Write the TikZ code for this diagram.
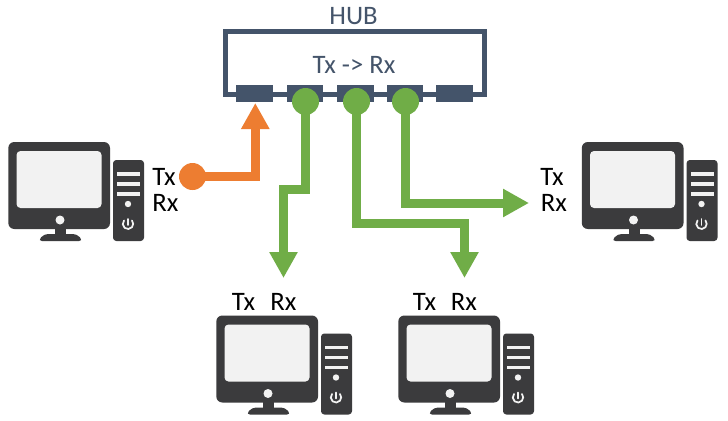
\documentclass[tikz,border=0pt]{standalone}
\usepackage{fontspec}
\setmainfont{Carlito}
\usetikzlibrary{arrows.meta}
\definecolor{hubblue}{HTML}{44546A}
\definecolor{okgreen}{HTML}{70AD47}
\definecolor{txorange}{HTML}{ED7D31}
\definecolor{pcdark}{HTML}{3B3B3D}
\definecolor{pcscreen}{HTML}{F2F2F2}
\tikzset{
  x=0.75pt,y=-0.75pt,
  port/.style={fill=hubblue,draw=none,minimum width=27.5pt,minimum height=12.4pt,inner sep=0pt},
  lbl/.style={font=\fontsize{20}{20}\selectfont,text=black,inner sep=0pt},
  hublbl/.style={font=\fontsize{20}{20}\selectfont,text=hubblue,inner sep=0pt},
  dotgreen/.style={circle,fill=okgreen,minimum size=20.25pt,inner sep=0pt},
  dotorange/.style={circle,fill=txorange,minimum size=20.25pt,inner sep=0pt},
  wire/.style={line width=6.75pt,-{Triangle[length=19.5pt,width=20pt]}},
  pc/.pic={
    \fill[pcdark,rounded corners=4.5pt] (8.3,142) rectangle (110,229);
    \fill[pcscreen,rounded corners=3pt] (16.5,151) rectangle (101.5,208);
    \fill[pcscreen] (60,220) circle[radius=4.5];
    \fill[pcdark] (55,228) rectangle (66,236);
    \fill[pcdark,rounded corners=3pt] (38,241) -- (44,234) -- (77,234) -- (83,241) -- cycle;
    \fill[pcdark,rounded corners=2.5pt] (113,160) rectangle (144,241);
    \foreach \yy in {174,184,194} \fill[pcscreen] (117,\yy-1.7) rectangle (140,\yy+1.7);
    \fill[pcscreen] (128,204) circle[radius=3.2];
    \draw[pcscreen,line width=1.3pt,line cap=round] (128,219) -- (128,225);
    \draw[pcscreen,line width=1.3pt,line cap=round] (124,220.5) arc[start angle=220,end angle=-40,radius=5.2];
  }
}
\begin{document}
\begin{tikzpicture}
\useasboundingbox (0,0) rectangle (728,421);
\fill[white] (0,0) rectangle (728,421);
% computers
\pic at (0,0) {pc};
\pic at (208,173.5) {pc};
\pic at (390,173.5) {pc};
\pic at (573.5,0) {pc};
% hub
\draw[hubblue,line width=3.3pt] (225.5,94.5) -- (225.5,31.5) -- (484.5,31.5) -- (484.5,94.5) -- cycle;
\node[port] (p1) at (254.5,93.3) {};
\node[port,minimum width=27pt] (p2) at (305,93.3) {};
\node[port] (p3) at (355.5,93.3) {};
\node[port,minimum width=27pt] (p4) at (405,93.3) {};
\node[port] (p5) at (454.5,93.3) {};
\node[hublbl,anchor=base] (hub) at (353.5,24) {HUB};
\node[hublbl,anchor=base] (rule) at (354,73) {Tx -> Rx};
% labels
\node[lbl,anchor=base] (txa) at (164,185) {Tx};
\node[lbl,anchor=base] (rxa) at (165.5,211.5) {Rx};
\node[lbl,anchor=base] (txb) at (243.5,310) {Tx};
\node[lbl,anchor=base] (rxb) at (283.5,310) {Rx};
\node[lbl,anchor=base] (txc) at (424.5,310) {Tx};
\node[lbl,anchor=base] (rxc) at (464,310) {Rx};
\node[lbl,anchor=base] (txd) at (552,185) {Tx};
\node[lbl,anchor=base] (rxd) at (554,211.5) {Rx};
% end points and bends
\coordinate (g1) at (305.5,101.5);
\coordinate (g2) at (356.5,101.5);
\coordinate (g3) at (405.5,101.5);
\coordinate (o1) at (192.5,176.5);
\coordinate (a0) at (255.3,103);
\coordinate (a1) at (283.5,278);
\coordinate (a2) at (464.5,278);
\coordinate (a3) at (529,203);
% connectors
\draw[wire,txorange] (o1) -- (a0 |- o1) -- (a0);
\draw[wire,okgreen] (g1) -- (305.5,189.8) -- (283.5,189.8) -- (a1);
\draw[wire,okgreen] (g2) -- (356.5,223) -- (464.5,223) -- (a2);
\draw[wire,okgreen] (g3) -- (g3 |- a3) -- (a3);
\node[dotgreen] (d1) at (g1) {};
\node[dotgreen] (d2) at (g2) {};
\node[dotgreen] (d3) at (g3) {};
\node[dotorange] (d0) at (o1) {};
\end{tikzpicture}
\end{document}
